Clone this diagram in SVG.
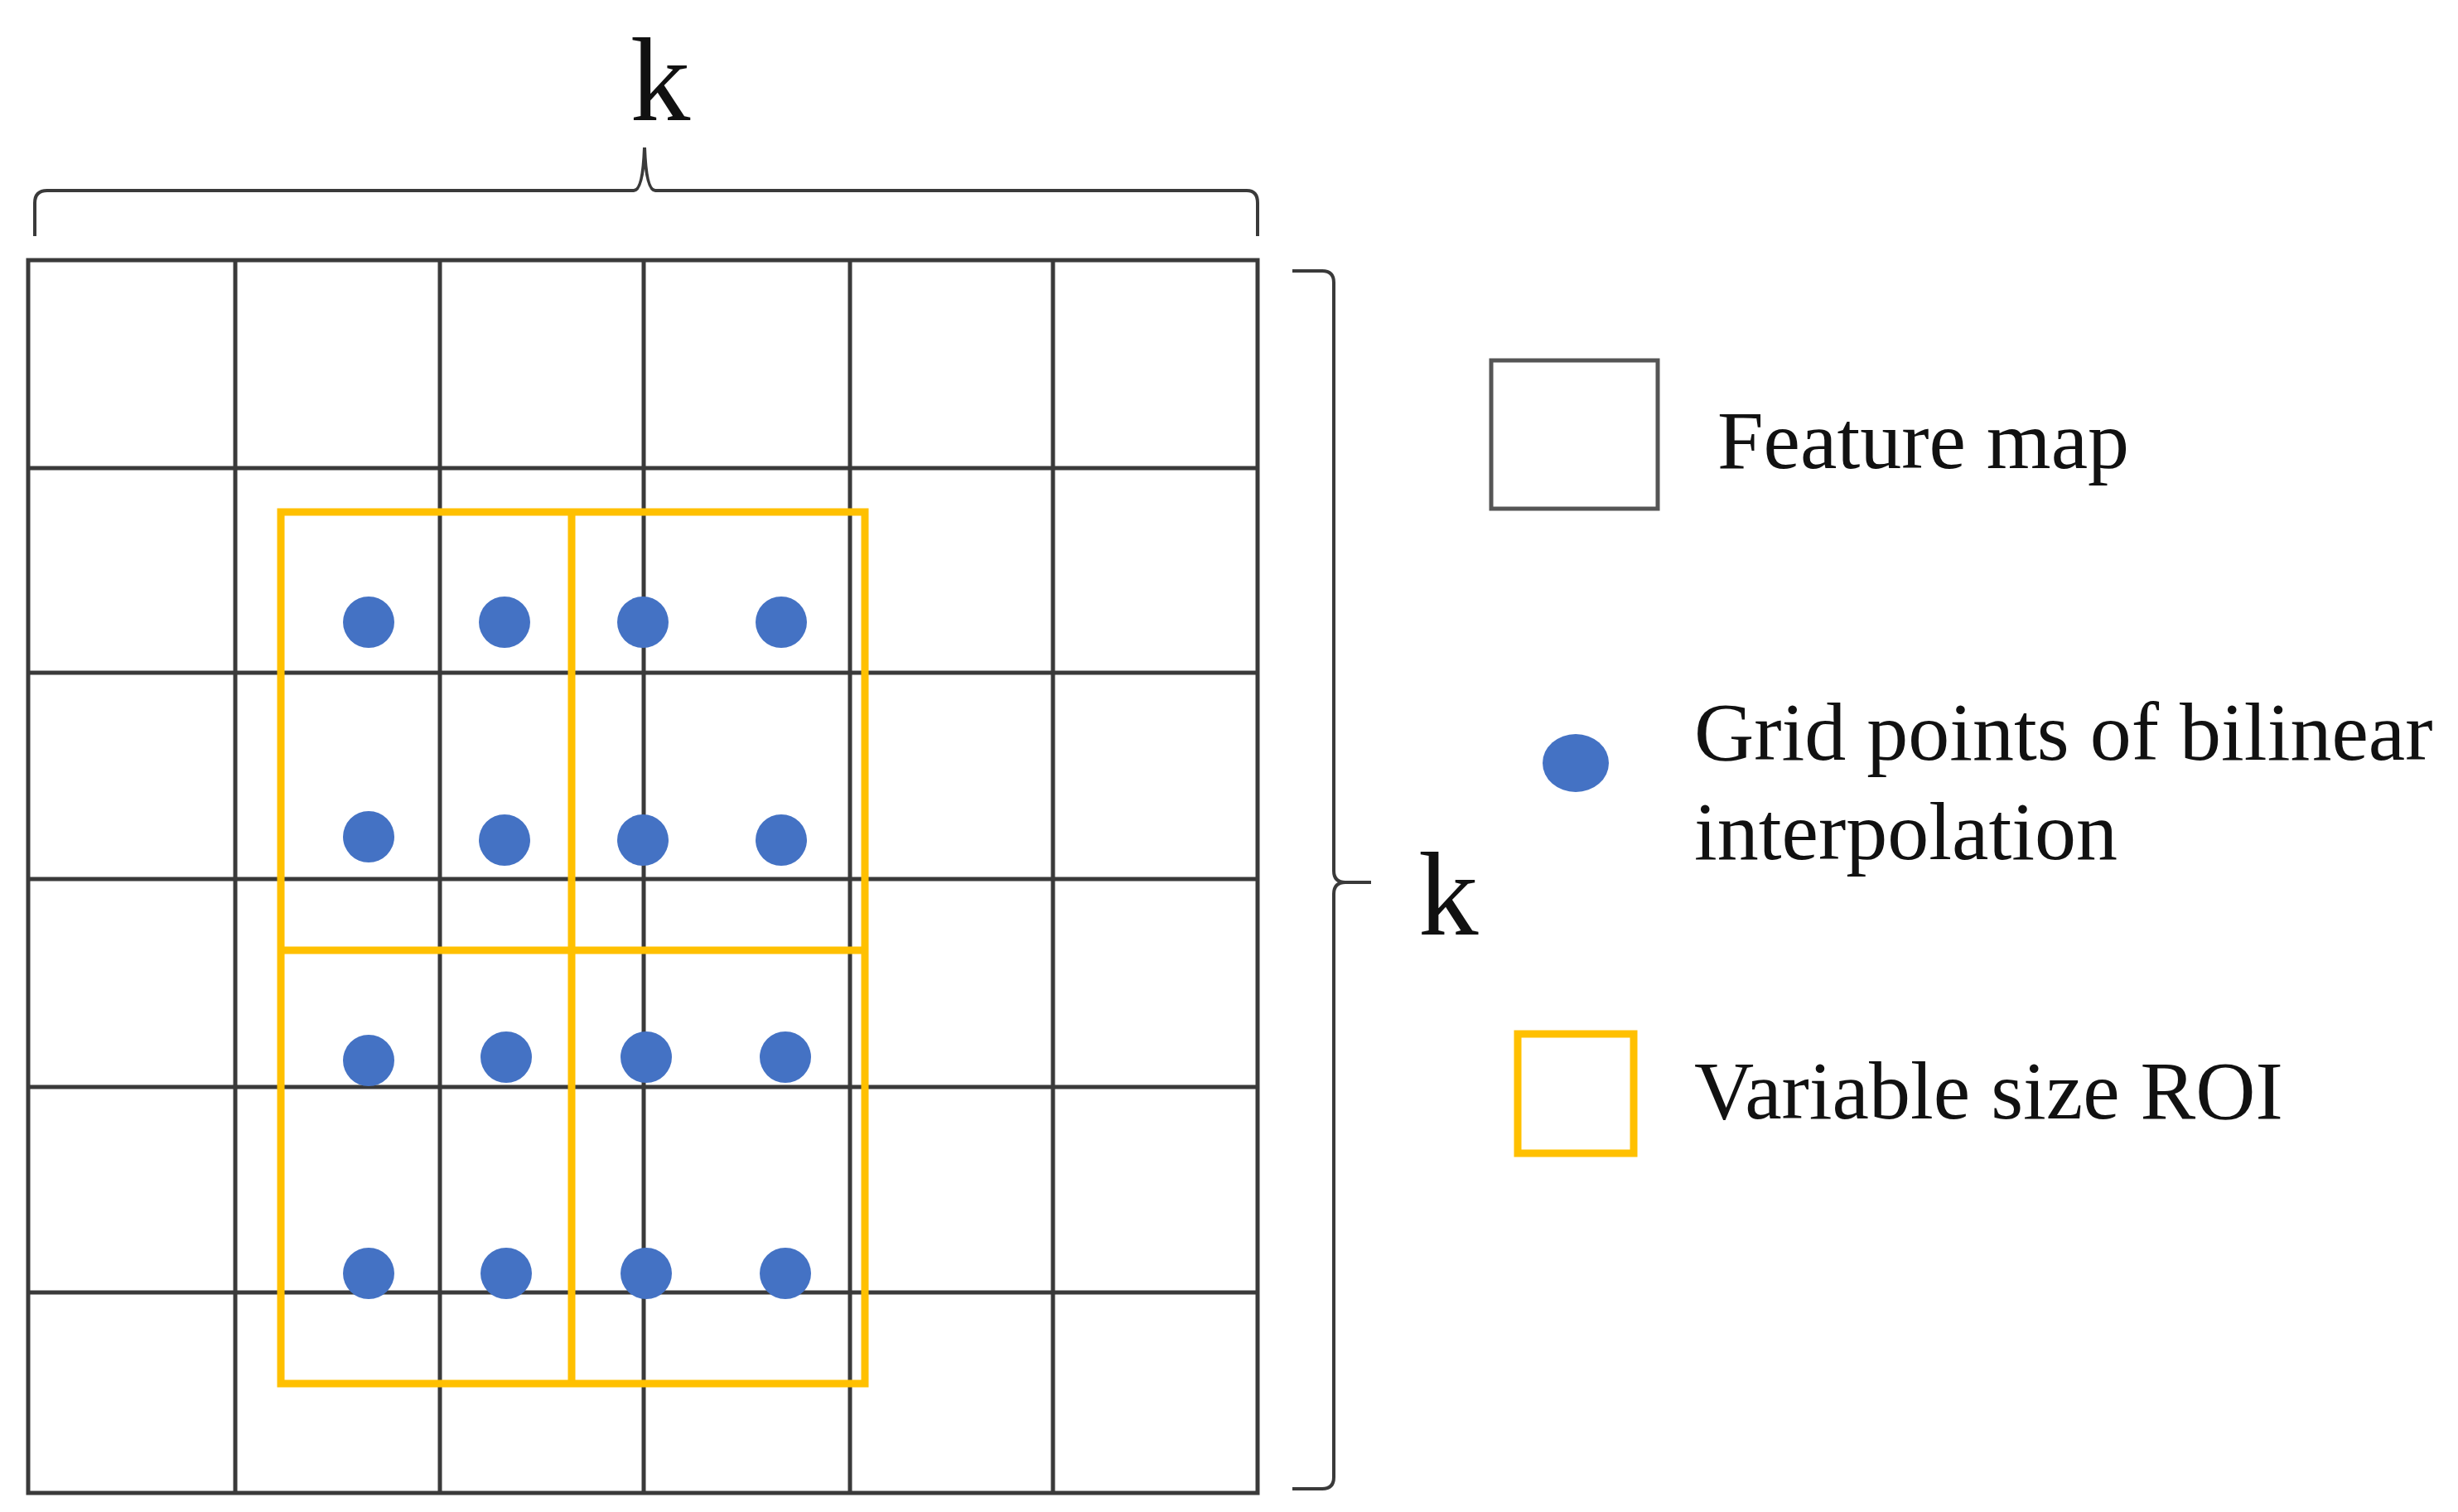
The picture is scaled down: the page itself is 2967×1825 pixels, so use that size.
<svg xmlns="http://www.w3.org/2000/svg" width="2967" height="1825" viewBox="0 0 2967 1825">
<style>
.g{stroke:#3a3a3a;stroke-width:5;fill:none}
.b{stroke:#3a3a3a;stroke-width:4;fill:none}
.y{stroke:#FFC000;stroke-width:9;fill:none}
.d{fill:#4472C4}
.t{font-family:"Liberation Serif",serif;fill:#111}
</style>
<rect width="2967" height="1825" fill="#fff"/>
<g id="grid">
<rect class="g" x="34" y="314" width="1484" height="1488"/>
<path class="g" d="M284 314V1802M531 314V1802M777 314V1802M1026 314V1802M1271 314V1802M34 565H1518M34 812H1518M34 1061H1518M34 1312H1518M34 1560H1518"/>
</g>
<g id="roi">
<rect class="y" x="339" y="618" width="705" height="1052"/>
<path class="y" d="M690 618V1670M339 1147H1044"/>
</g>
<g id="points">
<circle class="d" cx="445" cy="751" r="31"/><circle class="d" cx="609" cy="751" r="31"/><circle class="d" cx="776" cy="751" r="31"/><circle class="d" cx="943" cy="751" r="31"/>
<circle class="d" cx="445" cy="1010" r="31"/><circle class="d" cx="609" cy="1014" r="31"/><circle class="d" cx="776" cy="1014" r="31"/><circle class="d" cx="943" cy="1014" r="31"/>
<circle class="d" cx="445" cy="1280" r="31"/><circle class="d" cx="611" cy="1276" r="31"/><circle class="d" cx="780" cy="1276" r="31"/><circle class="d" cx="948" cy="1276" r="31"/>
<circle class="d" cx="445" cy="1537" r="31"/><circle class="d" cx="611" cy="1537" r="31"/><circle class="d" cx="780" cy="1537" r="31"/><circle class="d" cx="948" cy="1537" r="31"/>
</g>
<g id="braces">
<path class="b" d="M42 285V245Q42 230 57 230H765Q776 230 778 178Q780 230 791 230H1505Q1518 230 1518 245V285"/>
<path class="b" d="M1560 327H1596Q1610 327 1610 341V1051Q1610 1065 1624 1065H1655M1624 1065Q1610 1065 1610 1079V1783Q1610 1797 1596 1797H1560"/>
</g>
<text class="t" x="797" y="145" font-size="145" text-anchor="middle">k</text>
<text class="t" x="1712" y="1128" font-size="145">k</text>
<g id="legend">
<rect x="1800" y="435" width="201" height="179" fill="none" stroke="#555" stroke-width="5"/>
<text class="t" x="2073" y="565" font-size="100">Feature map</text>
<ellipse class="d" cx="1902" cy="921" rx="40" ry="35"/>
<text class="t" x="2045" y="917" font-size="100">Grid points of bilinear</text>
<text class="t" x="2045" y="1037" font-size="100">interpolation</text>
<rect class="y" x="1832" y="1248" width="140" height="144"/>
<text class="t" x="2045" y="1350" font-size="100">Variable size ROI</text>
</g>
</svg>
